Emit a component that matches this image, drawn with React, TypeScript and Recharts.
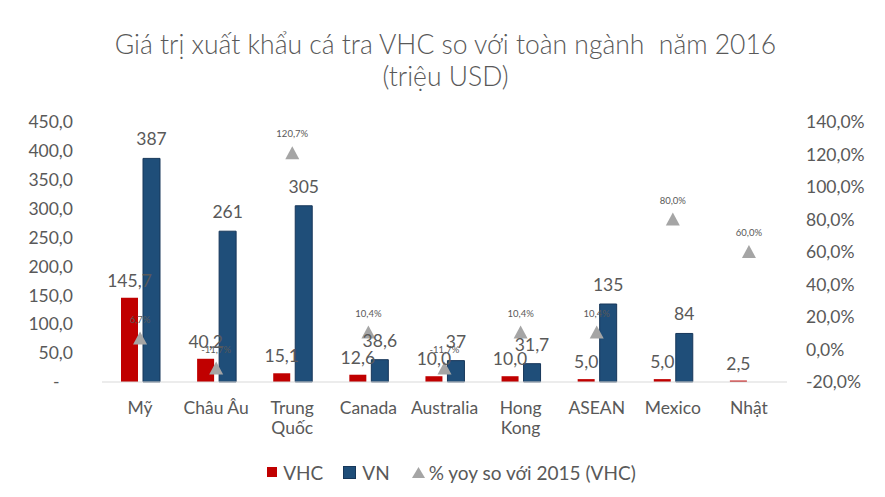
import React from 'react';
import { ComposedChart, Bar, Line, XAxis, YAxis, LabelList, Legend } from 'recharts';

const categories = ['Mỹ', 'Châu Âu', 'Trung\nQuốc', 'Canada', 'Australia', 'Hong\nKong', 'ASEAN', 'Mexico', 'Nhật'];
const vhcValues = [145.7, 40.2, 15.1, 12.6, 10.0, 10.0, 5.0, 5.0, 2.5];
const vnValues: (number | null)[] = [387, 261, 305, 38.6, 37, 31.7, 135, 84, null];
const yoyValues = [6.7, -11.7, 120.7, 10.4, -11.7, 10.4, 10.4, 80.0, 60.0];
const leftTicks = [0, 50, 100, 150, 200, 250, 300, 350, 400, 450];
const rightTicks = [-20, 0, 20, 40, 60, 80, 100, 120, 140];
const titleLines = ['Giá trị xuất khẩu cá tra VHC so với toàn ngành  năm 2016', '(triệu USD)'];
const seriesNames = { vhc: 'VHC', vn: 'VN', yoy: '% yoy so với 2015 (VHC)' };

const data = categories.map((c, i) => ({
  name: c,
  vhc: vhcValues[i],
  vn: vnValues[i],
  yoy: yoyValues[i],
}));

const FONT = 'Lato, "Open Sans", sans-serif';
const TEXT = '#595959';
const RED = '#C00000';
const BLUE = '#1F4E79';
const BLUE_EDGE = '#17375a';
const GRAY = '#A5A5A5';
const FS = 17.5;

const fmt1 = (v: number) => v.toFixed(1).replace('.', ',');
const fmtVn = (v: any) => (v == null ? '' : Number.isInteger(v) ? String(v) : fmt1(v));
const fmtLeft = (v: number) => (v === 0 ? '-\u00A0\u00A0\u00A0' : fmt1(v));
const fmtRight = (v: number) => fmt1(v) + '%';

const CategoryTick = (props: any) => {
  const { x, y, payload } = props;
  const lines = String(payload.value).split('\n');
  return (
    <text x={x} y={y} textAnchor="middle" fill={TEXT} fontSize={FS} fontFamily={FONT}>
      {lines.map((l, i) => (
        <tspan key={i} x={x} dy={i === 0 ? 0 : 20}>
          {l}
        </tspan>
      ))}
    </text>
  );
};

const Triangle = (props: any) => {
  const { cx, cy } = props;
  if (cx == null || cy == null) return null;
  return <polygon points={`${cx},${cy - 7} ${cx - 7},${cy + 6} ${cx + 7},${cy + 6}`} fill={GRAY} />;
};

const LegendContent = () => (
  <div
    style={{
      display: 'flex',
      justifyContent: 'center',
      alignItems: 'center',
      height: 24,
      fontFamily: FONT,
      fontSize: 19,
      color: TEXT,
      paddingLeft: 18,
    }}
  >
    <span style={{ display: 'inline-block', width: 10, height: 10, background: RED, marginRight: 6 }} />
    <span style={{ marginRight: 20 }}>{seriesNames.vhc}</span>
    <span
      style={{ display: 'inline-block', width: 11, height: 11, background: BLUE, border: `1px solid ${BLUE_EDGE}`, marginRight: 6 }}
    />
    <span style={{ marginRight: 22 }}>{seriesNames.vn}</span>
    <svg width={13} height={11} style={{ marginRight: 4 }}>
      <polygon points="6.5,0 0,11 13,11" fill={GRAY} />
    </svg>
    <span>{seriesNames.yoy}</span>
  </div>
);

export default function App() {
  return (
    <div style={{ position: 'absolute', left: 0, top: 0, width: 885, height: 497, background: '#fff' }}>
      <div
        style={{
          position: 'absolute',
          left: 0,
          top: 28,
          width: 891,
          textAlign: 'center',
          fontFamily: FONT,
          fontSize: 26.5,
          fontWeight: 300,
          lineHeight: '32px',
          color: TEXT,
          whiteSpace: 'pre',
        }}
      >
        {titleLines.map((t, i) => (
          <div key={i}>{t}</div>
        ))}
      </div>
      <ComposedChart
        width={885}
        height={497}
        data={data}
        margin={{ top: 122, right: 0, bottom: 13, left: 0 }}
        barSize={17}
        barGap={5}
      >
        <XAxis
          dataKey="name"
          xAxisId="x"
          interval={0}
          tickLine={false}
          tickSize={0}
          tickMargin={32}
          height={78}
          axisLine={{ stroke: '#D9D9D9' }}
          tick={<CategoryTick />}
        />
        <YAxis
          yAxisId="left"
          orientation="left"
          width={102}
          domain={[0, 450]}
          ticks={leftTicks}
          tickFormatter={fmtLeft}
          axisLine={false}
          tickLine={false}
          tickSize={0}
          tickMargin={29}
          tick={{ fill: TEXT, fontSize: FS, fontFamily: FONT }}
        />
        <YAxis
          yAxisId="right"
          orientation="right"
          width={98}
          domain={[-20, 140]}
          ticks={rightTicks}
          tickFormatter={fmtRight}
          axisLine={false}
          tickLine={false}
          tickSize={0}
          tickMargin={19}
          tick={{ fill: TEXT, fontSize: FS, fontFamily: FONT, textAnchor: 'start' }}
        />
        <Legend verticalAlign="bottom" content={<LegendContent />} />
        <Bar dataKey="vhc" name={seriesNames.vhc} xAxisId="x" yAxisId="left" fill={RED} isAnimationActive={false}>
          <LabelList
            dataKey="vhc"
            position="top"
            offset={11}
            formatter={(v: any) => fmt1(Number(v))}
            style={{ fill: TEXT, fontSize: FS, fontFamily: FONT }}
          />
        </Bar>
        <Bar
          dataKey="vn"
          name={seriesNames.vn}
          xAxisId="x"
          yAxisId="left"
          fill={BLUE}
          stroke={BLUE_EDGE}
          strokeWidth={1}
          isAnimationActive={false}
        >
          <LabelList
            dataKey="vn"
            position="top"
            offset={13}
            formatter={fmtVn}
            style={{ fill: TEXT, fontSize: FS, fontFamily: FONT }}
          />
        </Bar>
        <Line
          dataKey="yoy"
          name={seriesNames.yoy}
          xAxisId="x"
          yAxisId="right"
          stroke="none"
          dot={<Triangle />}
          activeDot={false}
          isAnimationActive={false}
        >
          <LabelList
            dataKey="yoy"
            position="top"
            offset={16}
            formatter={(v: any) => fmt1(Number(v)) + '%'}
            style={{ fill: TEXT, fontSize: 9.5, fontFamily: FONT }}
          />
        </Line>
      </ComposedChart>
    </div>
  );
}
